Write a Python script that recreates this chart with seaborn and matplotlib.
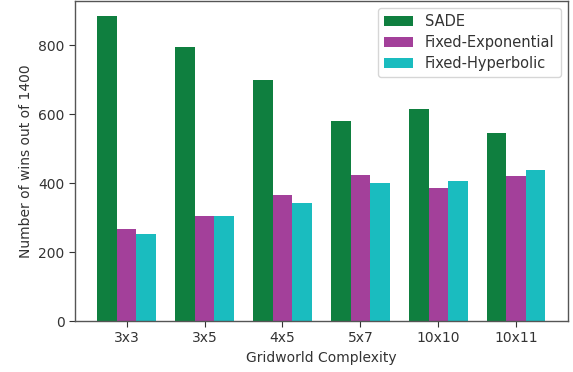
import matplotlib
matplotlib.use("Agg")
import matplotlib.pyplot as plt
import seaborn as sns
import pandas as pd

categories = ["3x3", "3x5", "4x5", "5x7", "10x10", "10x11"]
series_names = ["SADE", "Fixed-Exponential", "Fixed-Hyperbolic"]
sade = [884, 794, 698, 579, 614, 545]
fixed_exp = [266, 304, 365, 423, 385, 420]
fixed_hyp = [252, 304, 342, 400, 405, 437]
colors = ["#0f7f3f", "#a3409a", "#1abcbf"]

rows = []
for name, vals in zip(series_names, [sade, fixed_exp, fixed_hyp]):
    for c, v in zip(categories, vals):
        rows.append({"Gridworld Complexity": c, "wins": v, "method": name})
df = pd.DataFrame(rows)

sns.set_style("ticks")
plt.rcParams["font.family"] = ["DejaVu Sans"]
fig, ax = plt.subplots(figsize=(5.73, 3.72), dpi=100)
fig.subplots_adjust(left=0.131, right=0.991, top=0.997, bottom=0.137)

sns.barplot(data=df, x="Gridworld Complexity", y="wins", hue="method",
            order=categories, hue_order=series_names, palette=colors,
            width=0.75, saturation=1, ax=ax, linewidth=0, edgecolor="none")

ax.set_xlim(-0.6625, len(categories) - 1 + 0.6625)
ax.set_ylim(0, max(sade) * 1.05)
ax.set_yticks([0, 200, 400, 600, 800])
ax.set_xlabel("Gridworld Complexity", color="#333333", fontsize=10)
ax.set_ylabel("Number of wins out of 1400", color="#333333", fontsize=10)
ax.tick_params(colors="#333333", labelsize=10, length=4)
for s in ax.spines.values():
    s.set_color("#555555")
    s.set_linewidth(1.0)
    s.set_visible(True)
leg = ax.legend(loc="upper right", fontsize=10.5, frameon=True, labelspacing=0.4)
leg.get_frame().set_edgecolor("#cccccc")
for t in leg.get_texts():
    t.set_color("#333333")

fig.savefig("out.png", dpi=100)
